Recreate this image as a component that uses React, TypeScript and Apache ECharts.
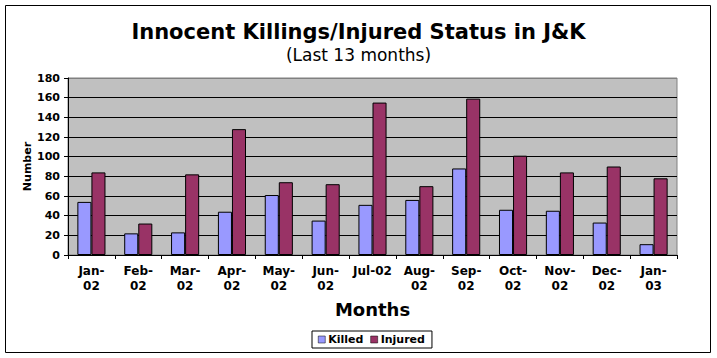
import React, { useEffect, useRef } from "react";
import * as echarts from "echarts";

const categories = ["Jan-\n02", "Feb-\n02", "Mar-\n02", "Apr-\n02", "May-\n02", "Jun-\n02", "Jul-02", "Aug-\n02", "Sep-\n02", "Oct-\n02", "Nov-\n02", "Dec-\n02", "Jan-\n03"];
const killed = [54, 22, 23, 44, 61, 35, 51, 56, 88, 46, 45, 33, 11];
const injured = [84, 32, 82, 128, 74, 72, 155, 70, 159, 101, 84, 90, 78];
const yTicks = { min: 0, max: 180, interval: 20 };

export default function App() {
  const ref = useRef<HTMLDivElement>(null);
  useEffect(() => {
    if (!ref.current) return;
    const chart = echarts.init(ref.current, null, { renderer: "svg" });
    const font = "'DejaVu Sans', Verdana, sans-serif";
    chart.setOption({
      animation: false,
      backgroundColor: "#ffffff",
      textStyle: { fontFamily: font },
      title: [
        {
          text: "Innocent Killings/Injured Status in J&K",
          left: "center",
          top: 16,
          textStyle: { fontFamily: font, fontSize: 21, fontWeight: "bold", color: "#000" },
        },
        {
          text: "(Last 13 months)",
          left: "center",
          top: 41,
          textStyle: { fontFamily: font, fontSize: 17, fontWeight: "normal", color: "#000" },
        },
      ],
      graphic: [
        {
          type: "rect",
          shape: { x: 5.5, y: 5.5, width: 705, height: 347 },
          style: { fill: "none", stroke: "#000", lineWidth: 1 },
          silent: true,
        },
      ],
      legend: {
        data: ["Killed", "Injured"],
        left: 312,
        top: 331,
        itemWidth: 7,
        itemHeight: 7,
        itemGap: 7,
        padding: [3, 7, 3, 6],
        borderColor: "#000",
        borderWidth: 1,
        icon: "rect",
        textStyle: { fontFamily: font, fontSize: 11, fontWeight: "bold", color: "#000", padding: [0, 0, 0, -2] },
        itemStyle: { borderColor: "#000", borderWidth: 0.5 },
      },
      grid: {
        left: 68,
        right: 40,
        top: 78,
        bottom: 103,
        show: true,
        backgroundColor: "#C0C0C0",
        borderColor: "#808080",
        borderWidth: 1,
      },
      xAxis: {
        type: "category",
        data: categories,
        name: "Months",
        nameLocation: "middle",
        nameGap: 45,
        nameTextStyle: { fontFamily: font, fontSize: 18, fontWeight: "bold", color: "#000" },
        axisLine: { lineStyle: { color: "#000", width: 1 } },
        axisTick: { show: true, length: 4, lineStyle: { color: "#000" } },
        axisLabel: { interval: 0, fontFamily: font, fontSize: 12, fontWeight: "bold", color: "#000", margin: 8, lineHeight: 15 },
      },
      yAxis: {
        type: "value",
        min: yTicks.min,
        max: yTicks.max,
        interval: yTicks.interval,
        name: "Number",
        nameLocation: "middle",
        nameGap: 35,
        nameMoveOverlap: false,
        nameTextStyle: { fontFamily: font, fontSize: 11, fontWeight: "bold", color: "#000" },
        axisLine: { show: true, lineStyle: { color: "#000", width: 1 } },
        axisTick: { show: true, length: 4, lineStyle: { color: "#000" } },
        axisLabel: { fontFamily: font, fontSize: 11, fontWeight: "bold", color: "#000", margin: 8 },
        splitLine: {
          show: true,
          lineStyle: {
            color: ["#000", "#000", "#000", "#000", "#000", "#000", "#000", "#000", "#000", "#808080"],
            width: 1,
          },
        },
      },
      series: [
        {
          name: "Killed",
          type: "bar",
          data: killed,
          barGap: "0%",
          barCategoryGap: "40%",
          itemStyle: { color: "#9999FF", borderColor: "#000", borderWidth: 1 },
        },
        {
          name: "Injured",
          type: "bar",
          data: injured,
          barGap: "0%",
          barCategoryGap: "40%",
          itemStyle: { color: "#993366", borderColor: "#000", borderWidth: 1 },
        },
      ],
    });
    return () => chart.dispose();
  }, []);
  return <div ref={ref} style={{ width: 717, height: 358, position: "absolute", left: 0, top: 0 }} />;
}
